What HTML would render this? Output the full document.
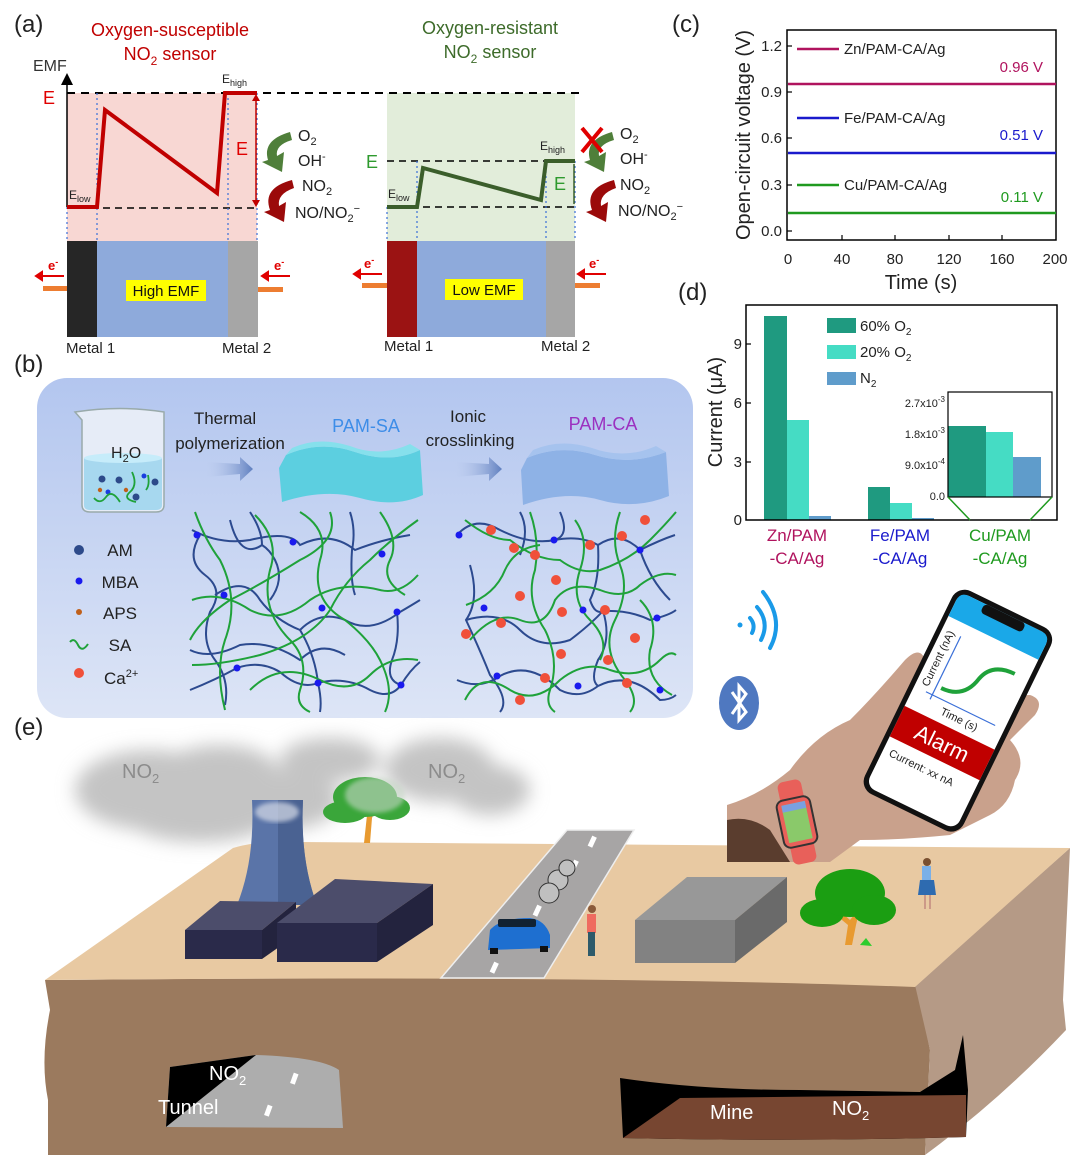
<!DOCTYPE html>
<html><head><meta charset="utf-8"><style>
html,body{margin:0;padding:0;background:#fff}
svg{display:block}
text{font-family:"Liberation Sans",Arial,sans-serif}
</style></head><body>
<svg width="1080" height="1163" viewBox="0 0 1080 1163" xmlns="http://www.w3.org/2000/svg">
<defs>
<filter id="blur" x="-30%" y="-30%" width="160%" height="160%"><feGaussianBlur stdDeviation="9"/></filter>
<filter id="blur2"><feGaussianBlur stdDeviation="2"/></filter>
<linearGradient id="bgb" x1="0" y1="0" x2="0" y2="1"><stop offset="0" stop-color="#b3c6ef"/><stop offset="1" stop-color="#dde5f6"/></linearGradient>
<linearGradient id="arr" x1="0" y1="0" x2="1" y2="0"><stop offset="0" stop-color="#b9c8ea" stop-opacity="0"/><stop offset="1" stop-color="#5f7fbf"/></linearGradient>
<marker id="ah" markerWidth="8" markerHeight="8" refX="4" refY="4" orient="auto"><path d="M0,0 L8,4 L0,8 Z" fill="#000"/></marker>
</defs>

<!-- ===== Panel (a) ===== -->
<text x="14" y="32" font-size="24" fill="#222">(a)</text>
<text x="170" y="36" font-size="18" fill="#c00000" text-anchor="middle">Oxygen-susceptible</text>
<text x="170" y="60" font-size="18" fill="#c00000" text-anchor="middle">NO<tspan font-size="12" dy="5">2</tspan><tspan dy="-5"> sensor</tspan></text>
<text x="490" y="34" font-size="18" fill="#3d6b2a" text-anchor="middle">Oxygen-resistant</text>
<text x="490" y="58" font-size="18" fill="#3d6b2a" text-anchor="middle">NO<tspan font-size="12" dy="5">2</tspan><tspan dy="-5"> sensor</tspan></text>
<text x="33" y="71" font-size="16" fill="#333">EMF</text>

<rect x="67" y="93" width="190" height="148" fill="#f8d7d3"/>
<rect x="387" y="93" width="188" height="148" fill="#e2edda"/>
<line x1="67" y1="207" x2="67" y2="79" stroke="#000" stroke-width="1.5" marker-end="url(#ah)"/>
<line x1="67" y1="93" x2="584" y2="93" stroke="#000" stroke-width="2" stroke-dasharray="8,6"/>
<line x1="67" y1="208" x2="257" y2="208" stroke="#000" stroke-width="1.5" stroke-dasharray="7,5"/>
<line x1="387" y1="207" x2="575" y2="207" stroke="#000" stroke-width="1.5" stroke-dasharray="7,5"/>
<line x1="387" y1="161" x2="575" y2="161" stroke="#000" stroke-width="1.5" stroke-dasharray="7,5"/>
<g stroke="#3a6fd8" stroke-width="1.2" stroke-dasharray="2,3">
<line x1="67" y1="207" x2="67" y2="241"/><line x1="97" y1="93" x2="97" y2="241"/><line x1="228" y1="93" x2="228" y2="241"/><line x1="257" y1="93" x2="257" y2="241"/>
<line x1="387" y1="207" x2="387" y2="241"/><line x1="417" y1="161" x2="417" y2="241"/><line x1="546" y1="161" x2="546" y2="241"/><line x1="575" y1="161" x2="575" y2="241"/>
</g>
<polyline points="67,207 97,207 105,110 217,193 225,93 257,93" fill="none" stroke="#c00000" stroke-width="4" stroke-linejoin="miter"/>
<polyline points="387,207 417,207 423,168 541,200 546,161 575,161" fill="none" stroke="#3b5e2b" stroke-width="4"/>
<text x="43" y="104" font-size="18" fill="#e00000">E</text>
<text x="69" y="199" font-size="12" fill="#222">E<tspan font-size="9" dy="3">low</tspan></text>
<text x="222" y="83" font-size="12" fill="#222">E<tspan font-size="9" dy="3">high</tspan></text>
<line x1="256" y1="97" x2="256" y2="204" stroke="#c00000" stroke-width="1.5"/>
<path d="M252,101 L256,94 L260,101Z M252,200 L256,207 L260,200Z" fill="#c00000"/>
<text x="236" y="155" font-size="18" fill="#e00000">E</text>
<text x="366" y="168" font-size="18" fill="#2e9a2e">E</text>
<text x="388" y="198" font-size="12" fill="#222">E<tspan font-size="9" dy="3">low</tspan></text>
<text x="540" y="150" font-size="12" fill="#222">E<tspan font-size="9" dy="3">high</tspan></text>
<line x1="574" y1="164" x2="574" y2="204" stroke="#3b5e2b" stroke-width="1.5"/>
<text x="554" y="190" font-size="18" fill="#2e9a2e">E</text>

<!-- reaction arrows left -->
<path d="M290,132 Q262,140 268,160 L262,162 L282,172 L284,152 L277,156 Q275,145 292,140Z" fill="#4f7f3a"/>
<path d="M292,180 Q262,188 270,210 L264,212 L284,222 L286,202 L279,206 Q277,194 294,188Z" fill="#9b0a0a"/>
<text x="298" y="141" font-size="16" fill="#222">O<tspan font-size="11" dy="4">2</tspan></text>
<text x="298" y="166" font-size="16" fill="#222">OH<tspan font-size="11" dy="-6">-</tspan></text>
<text x="302" y="191" font-size="16" fill="#222">NO<tspan font-size="11" dy="4">2</tspan></text>
<text x="295" y="218" font-size="16" fill="#222">NO/NO<tspan font-size="11" dy="4">2</tspan><tspan font-size="11" dy="-10">−</tspan></text>
<!-- right -->
<path d="M612,132 Q584,140 590,160 L584,162 L604,172 L606,152 L599,156 Q597,145 614,140Z" fill="#4f7f3a"/>
<path d="M582,128 L602,152 M602,128 L582,152" stroke="#e00000" stroke-width="4"/>
<path d="M614,180 Q584,188 592,210 L586,212 L606,222 L608,202 L601,206 Q599,194 616,188Z" fill="#9b0a0a"/>
<text x="620" y="139" font-size="16" fill="#222">O<tspan font-size="11" dy="4">2</tspan></text>
<text x="620" y="164" font-size="16" fill="#222">OH<tspan font-size="11" dy="-6">-</tspan></text>
<text x="620" y="190" font-size="16" fill="#222">NO<tspan font-size="11" dy="4">2</tspan></text>
<text x="618" y="216" font-size="16" fill="#222">NO/NO<tspan font-size="11" dy="4">2</tspan><tspan font-size="11" dy="-10">−</tspan></text>

<!-- bars -->
<rect x="67" y="241" width="30" height="96" fill="#262626"/>
<rect x="97" y="241" width="131" height="96" fill="#8eaadb"/>
<rect x="228" y="241" width="30" height="96" fill="#a6a6a6"/>
<rect x="126" y="280" width="80" height="21" fill="#ffff00"/>
<text x="166" y="296" font-size="15" fill="#111" text-anchor="middle">High EMF</text>
<rect x="387" y="241" width="30" height="96" fill="#9b1313"/>
<rect x="417" y="241" width="129" height="96" fill="#8eaadb"/>
<rect x="546" y="241" width="29" height="96" fill="#a6a6a6"/>
<rect x="445" y="279" width="78" height="21" fill="#ffff00"/>
<text x="484" y="295" font-size="15" fill="#111" text-anchor="middle">Low EMF</text>
<rect x="43" y="286" width="24" height="5" fill="#ed7d31"/>
<rect x="258" y="287" width="25" height="5" fill="#ed7d31"/>
<rect x="362" y="283" width="25" height="5" fill="#ed7d31"/>
<rect x="575" y="283" width="25" height="5" fill="#ed7d31"/>
<g fill="#e00000" font-size="13" font-weight="bold">
<text x="48" y="270">e<tspan font-size="9" dy="-5">-</tspan></text>
<text x="274" y="270">e<tspan font-size="9" dy="-5">-</tspan></text>
<text x="364" y="268">e<tspan font-size="9" dy="-5">-</tspan></text>
<text x="589" y="268">e<tspan font-size="9" dy="-5">-</tspan></text>
</g>
<g stroke="#e00000" stroke-width="2" fill="#e00000">
<line x1="64" y1="276" x2="42" y2="276"/><path d="M42,272 L36,276 L42,280Z"/>
<line x1="290" y1="276" x2="268" y2="276"/><path d="M268,272 L262,276 L268,280Z"/>
<line x1="382" y1="274" x2="360" y2="274"/><path d="M360,270 L354,274 L360,278Z"/>
<line x1="606" y1="274" x2="584" y2="274"/><path d="M584,270 L578,274 L584,278Z"/>
</g>
<text x="66" y="353" font-size="15" fill="#222">Metal 1</text>
<text x="222" y="353" font-size="15" fill="#222">Metal 2</text>
<text x="384" y="351" font-size="15" fill="#222">Metal 1</text>
<text x="541" y="351" font-size="15" fill="#222">Metal 2</text>

<!-- ===== Panel (c) ===== -->
<text x="672" y="32" font-size="24" fill="#222">(c)</text>
<rect x="787" y="30" width="269" height="210" fill="none" stroke="#000" stroke-width="1.5"/>
<g font-size="15" fill="#222" text-anchor="end">
<text x="782" y="51">1.2</text><text x="782" y="97">0.9</text><text x="782" y="143">0.6</text><text x="782" y="190">0.3</text><text x="782" y="236">0.0</text>
</g>
<g stroke="#000" stroke-width="1.2">
<line x1="787" y1="46" x2="792" y2="46"/><line x1="787" y1="92" x2="792" y2="92"/><line x1="787" y1="138" x2="792" y2="138"/><line x1="787" y1="185" x2="792" y2="185"/><line x1="787" y1="231" x2="792" y2="231"/>
<line x1="842" y1="240" x2="842" y2="235"/><line x1="895" y1="240" x2="895" y2="235"/><line x1="949" y1="240" x2="949" y2="235"/><line x1="1002" y1="240" x2="1002" y2="235"/>
</g>
<g font-size="15" fill="#222" text-anchor="middle">
<text x="788" y="264">0</text><text x="842" y="264">40</text><text x="895" y="264">80</text><text x="949" y="264">120</text><text x="1002" y="264">160</text><text x="1055" y="264">200</text>
</g>
<text x="921" y="289" font-size="20" fill="#222" text-anchor="middle">Time (s)</text>
<text transform="translate(750,135) rotate(-90)" font-size="20" fill="#222" text-anchor="middle">Open-circuit voltage (V)</text>
<line x1="788" y1="84" x2="1056" y2="84" stroke="#b0135e" stroke-width="2.5"/>
<line x1="788" y1="153" x2="1056" y2="153" stroke="#1a1acc" stroke-width="2.5"/>
<line x1="788" y1="213" x2="1056" y2="213" stroke="#1f9a1f" stroke-width="2.5"/>
<line x1="797" y1="49" x2="839" y2="49" stroke="#b0135e" stroke-width="2.5"/>
<line x1="797" y1="118" x2="839" y2="118" stroke="#1a1acc" stroke-width="2.5"/>
<line x1="797" y1="185" x2="839" y2="185" stroke="#1f9a1f" stroke-width="2.5"/>
<g font-size="15" fill="#222">
<text x="844" y="54">Zn/PAM-CA/Ag</text><text x="844" y="123">Fe/PAM-CA/Ag</text><text x="844" y="190">Cu/PAM-CA/Ag</text>
</g>
<text x="1043" y="72" font-size="15" fill="#b0135e" text-anchor="end">0.96 V</text>
<text x="1043" y="140" font-size="15" fill="#1a1acc" text-anchor="end">0.51 V</text>
<text x="1043" y="202" font-size="15" fill="#1f9a1f" text-anchor="end">0.11 V</text>

<!-- ===== Panel (d) ===== -->
<text x="678" y="300" font-size="24" fill="#222">(d)</text>
<rect x="764" y="316" width="23" height="204" fill="#1f9a80"/>
<rect x="787" y="420" width="22" height="100" fill="#45dcc4"/>
<rect x="809" y="516" width="22" height="4" fill="#5f9ccb"/>
<rect x="868" y="487" width="22" height="33" fill="#1f9a80"/>
<rect x="890" y="503" width="22" height="17" fill="#45dcc4"/>
<rect x="912" y="518" width="22" height="2" fill="#5f9ccb"/>
<rect x="746" y="305" width="311" height="215" fill="none" stroke="#000" stroke-width="1.5"/>
<g font-size="15" fill="#222" text-anchor="end">
<text x="742" y="349">9</text><text x="742" y="408">6</text><text x="742" y="467">3</text><text x="742" y="525">0</text>
</g>
<g stroke="#000" stroke-width="1.2"><line x1="746" y1="344" x2="751" y2="344"/><line x1="746" y1="403" x2="751" y2="403"/><line x1="746" y1="462" x2="751" y2="462"/></g>
<text transform="translate(722,412) rotate(-90)" font-size="20" fill="#222" text-anchor="middle">Current (μA)</text>
<rect x="827" y="318" width="29" height="15" fill="#1f9a80"/>
<rect x="827" y="345" width="29" height="14" fill="#45dcc4"/>
<rect x="827" y="372" width="29" height="13" fill="#5f9ccb"/>
<g font-size="15" fill="#222">
<text x="860" y="331">60% O<tspan font-size="10" dy="4">2</tspan></text>
<text x="860" y="357">20% O<tspan font-size="10" dy="4">2</tspan></text>
<text x="860" y="383">N<tspan font-size="10" dy="4">2</tspan></text>
</g>
<rect x="948" y="426" width="38" height="71" fill="#1f9a80"/>
<rect x="986" y="432" width="27" height="65" fill="#45dcc4"/>
<rect x="1013" y="457" width="28" height="40" fill="#5f9ccb"/>
<rect x="948" y="392" width="104" height="105" fill="none" stroke="#000" stroke-width="1.2"/>
<g font-size="11" fill="#222" text-anchor="end">
<text x="945" y="407">2.7x10<tspan font-size="8" dy="-5">-3</tspan></text>
<text x="945" y="438">1.8x10<tspan font-size="8" dy="-5">-3</tspan></text>
<text x="945" y="469">9.0x10<tspan font-size="8" dy="-5">-4</tspan></text>
<text x="945" y="500">0.0</text>
</g>
<path d="M948,497 L970,520 M1052,497 L1030,520" stroke="#1f9a1f" stroke-width="1.5"/>
<g font-size="17" text-anchor="middle">
<text x="797" y="541" fill="#b0135e">Zn/PAM</text><text x="797" y="564" fill="#b0135e">-CA/Ag</text>
<text x="900" y="541" fill="#1a1acc">Fe/PAM</text><text x="900" y="564" fill="#1a1acc">-CA/Ag</text>
<text x="1000" y="541" fill="#1f9a1f">Cu/PAM</text><text x="1000" y="564" fill="#1f9a1f">-CA/Ag</text>
</g>

<!-- ===== Panel (b) ===== -->
<text x="14" y="372" font-size="24" fill="#222">(b)</text>
<rect x="37" y="378" width="656" height="340" rx="30" fill="url(#bgb)"/>
<!-- beaker -->
<path d="M75,412 L82,420 L82,505 Q82,512 90,512 L156,512 Q164,512 164,505 L164,412 Q120,405 75,412Z" fill="#e6ecf7" stroke="#9aa" stroke-width="1.5"/>
<path d="M84,458 Q123,450 162,458 L162,505 Q162,510 156,510 L90,510 Q84,510 84,505Z" fill="#a7d8ef"/>
<ellipse cx="123" cy="458" rx="39" ry="5" fill="#c6ecfa"/>
<text x="111" y="458" font-size="16" fill="#222">H<tspan font-size="11" dy="4">2</tspan><tspan dy="-4">O</tspan></text>
<g fill="#2d4a8a"><circle cx="102" cy="479" r="3.5"/><circle cx="119" cy="480" r="3.5"/><circle cx="155" cy="482" r="3.5"/><circle cx="136" cy="497" r="3.5"/></g>
<g fill="#1a3ee0"><circle cx="144" cy="476" r="2.5"/><circle cx="108" cy="492" r="2.5"/></g>
<g fill="#c0601a"><circle cx="100" cy="490" r="2.2"/><circle cx="126" cy="490" r="2.2"/></g>
<path d="M94,498 Q100,505 106,497 T120,502 M132,472 Q138,485 130,492 T136,502 M148,475 Q150,485 146,490" stroke="#1fa23a" stroke-width="1.8" fill="none"/>
<text x="225" y="424" font-size="17" fill="#222" text-anchor="middle">Thermal</text>
<text x="230" y="449" font-size="17" fill="#222" text-anchor="middle">polymerization</text>
<path d="M206,462 L240,464 L240,457 L253,469 L240,481 L240,474 L206,477Z" fill="url(#arr)"/>
<text x="366" y="432" font-size="18" fill="#3d8de8" text-anchor="middle">PAM-SA</text>
<path d="M286,455 Q320,440 355,452 Q390,464 420,450 L423,495 Q395,508 360,498 Q325,488 282,502 L279,468Z" fill="#5ccfe0"/>
<path d="M286,455 Q320,440 355,452 Q390,464 420,450 L410,444 Q380,458 350,446 Q318,436 292,448Z" fill="#86e0ec"/>
<text x="468" y="422" font-size="17" fill="#222" text-anchor="middle">Ionic</text>
<text x="470" y="446" font-size="17" fill="#222" text-anchor="middle">crosslinking</text>
<path d="M455,462 L489,464 L489,457 L502,469 L489,481 L489,474 L455,477Z" fill="url(#arr)"/>
<text x="603" y="430" font-size="18" fill="#9b30c0" text-anchor="middle">PAM-CA</text>
<path d="M527,458 Q560,444 595,455 Q630,466 666,452 L669,496 Q635,510 600,500 Q565,490 523,505 L521,470Z" fill="#8eb2e6"/>
<path d="M527,458 Q560,444 595,455 Q630,466 666,452 L656,446 Q625,460 592,448 Q560,438 533,450Z" fill="#a6c3ee"/>
<!-- legend -->
<circle cx="79" cy="550" r="5" fill="#2d4a8a"/><text x="120" y="556" font-size="17" fill="#222" text-anchor="middle">AM</text>
<circle cx="79" cy="581" r="3.5" fill="#1a1aee"/><text x="120" y="588" font-size="17" fill="#222" text-anchor="middle">MBA</text>
<circle cx="79" cy="612" r="3" fill="#c0601a"/><text x="120" y="619" font-size="17" fill="#222" text-anchor="middle">APS</text>
<path d="M70,642 Q74,637 78,645 T88,644" stroke="#1fa23a" stroke-width="2" fill="none"/><text x="120" y="651" font-size="17" fill="#222" text-anchor="middle">SA</text>
<circle cx="79" cy="673" r="5" fill="#f0503a"/><text x="104" y="684" font-size="17" fill="#222">Ca<tspan font-size="11" dy="-7">2+</tspan></text>
<!-- network 1 -->
<g fill="none" stroke-width="2">
<g stroke="#2c4a8f">
<path d="M192,530 Q220,545 250,540 Q290,530 300,545 Q330,530 355,550 Q380,540 410,535"/>
<path d="M250,512 Q262,530 262,545"/>
<path d="M350,512 Q356,530 352,550 Q350,580 355,595"/>
<path d="M200,535 Q185,560 205,575 Q225,590 210,612 Q200,640 215,660 Q230,680 225,705"/>
<path d="M215,595 Q245,575 260,600 Q275,620 300,630 Q320,610 345,620 Q370,635 400,612 Q412,605 420,600"/>
<path d="M190,650 Q210,660 240,645 Q270,640 300,660 Q320,640 345,655"/>
<path d="M190,690 Q215,680 237,668 Q260,660 280,672 Q300,690 318,683 Q345,676 370,690 Q390,700 401,685 Q410,670 420,662"/>
<path d="M300,630 Q315,655 318,683 Q322,700 320,712"/>
<path d="M230,520 Q240,560 262,545"/>
<path d="M397,612 Q400,640 392,660 Q385,680 401,685"/>
<path d="M270,600 Q285,580 275,560 Q270,550 262,545"/>
</g>
<g stroke="#1fa23a">
<path d="M195,512 Q205,540 220,560 Q240,600 225,640 Q215,670 225,710"/>
<path d="M255,515 Q280,540 270,570 Q260,610 290,640 Q310,660 300,690 Q295,705 310,712"/>
<path d="M300,512 Q330,530 320,560 Q310,600 345,620 Q370,640 380,660 Q395,690 385,712"/>
<path d="M330,512 Q340,540 300,560 Q260,585 230,600 Q200,620 190,640"/>
<path d="M418,520 Q390,540 370,560 Q345,580 330,610 Q310,640 260,655 Q220,665 192,665"/>
<path d="M192,600 Q220,590 250,610 Q280,625 310,600 Q340,580 380,590 Q400,595 418,575"/>
<path d="M380,512 Q400,540 390,560 Q380,580 405,595"/>
<path d="M250,690 Q280,660 320,680 Q350,695 370,675 Q390,655 418,660"/>
</g>
</g>
<g fill="#1a1aee"><circle cx="197" cy="535" r="3.5"/><circle cx="293" cy="542" r="3.5"/><circle cx="382" cy="554" r="3.5"/><circle cx="224" cy="595" r="3.5"/><circle cx="322" cy="608" r="3.5"/><circle cx="397" cy="612" r="3.5"/><circle cx="237" cy="668" r="3.5"/><circle cx="318" cy="683" r="3.5"/><circle cx="401" cy="685" r="3.5"/></g>
<!-- network 2 -->
<g fill="none" stroke-width="2">
<g stroke="#2c4a8f">
<path d="M457,535 Q475,515 500,530 Q530,545 555,540 Q580,535 598,545 Q620,530 640,550 Q660,540 675,535"/>
<path d="M470,565 Q480,600 466,620 Q480,650 490,675 Q510,700 500,712"/>
<path d="M466,620 Q500,610 520,630 Q540,650 570,640 Q590,625 603,611 Q630,610 650,620 Q670,615 676,610"/>
<path d="M457,680 Q480,690 500,676 Q530,660 560,690 Q580,700 598,686 Q630,670 660,700 Q670,700 676,695"/>
<path d="M598,545 Q600,580 590,600 Q595,615 603,611 Q612,640 598,660 Q590,680 598,686"/>
<path d="M640,550 Q650,580 670,600"/>
<path d="M520,512 Q530,530 520,555"/>
<path d="M560,512 Q570,535 555,540"/>
</g>
<g stroke="#1fa23a">
<path d="M465,520 Q490,540 510,540 Q535,560 560,560 Q580,575 600,570 Q630,560 650,540 Q665,525 676,512"/>
<path d="M470,640 Q495,610 520,620 Q545,630 555,600 Q570,580 600,590 Q625,600 640,585 Q660,570 676,575"/>
<path d="M465,700 Q480,670 510,690 Q535,705 560,680 Q585,660 610,670 Q640,680 660,660 Q670,650 676,655"/>
<path d="M530,512 Q540,540 535,570 Q525,600 545,630 Q560,660 550,690 Q545,705 555,712"/>
<path d="M620,512 Q610,540 620,565 Q630,590 615,620 Q600,650 625,680 Q640,700 630,712"/>
<path d="M575,520 Q590,540 580,570 Q570,600 590,620 Q610,640 600,660"/>
<path d="M466,605 Q495,595 505,570 Q515,548 540,545"/>
<path d="M640,600 Q660,620 650,650 Q645,680 672,695"/>
</g>
</g>
<g fill="#1a1aee"><circle cx="459" cy="535" r="3.5"/><circle cx="554" cy="540" r="3.5"/><circle cx="640" cy="550" r="3.5"/><circle cx="484" cy="608" r="3.5"/><circle cx="583" cy="610" r="3.5"/><circle cx="657" cy="618" r="3.5"/><circle cx="497" cy="676" r="3.5"/><circle cx="578" cy="686" r="3.5"/><circle cx="660" cy="690" r="3.5"/></g>
<g fill="#f0503a">
<circle cx="491" cy="530" r="5"/><circle cx="514" cy="548" r="5"/><circle cx="535" cy="555" r="5"/><circle cx="590" cy="545" r="5"/><circle cx="622" cy="536" r="5"/><circle cx="645" cy="520" r="5"/>
<circle cx="556" cy="580" r="5"/><circle cx="520" cy="596" r="5"/><circle cx="562" cy="612" r="5"/><circle cx="605" cy="610" r="5"/><circle cx="501" cy="623" r="5"/><circle cx="466" cy="634" r="5"/><circle cx="635" cy="638" r="5"/>
<circle cx="561" cy="654" r="5"/><circle cx="608" cy="660" r="5"/><circle cx="545" cy="678" r="5"/><circle cx="627" cy="683" r="5"/><circle cx="520" cy="700" r="5"/>
</g>

<!-- ===== Panel (e) ===== -->
<text x="14" y="735" font-size="24" fill="#222">(e)</text>
<!-- clouds -->
<g filter="url(#blur)" fill="#c4c4c4">
<ellipse cx="150" cy="790" rx="75" ry="40"/><ellipse cx="220" cy="775" rx="60" ry="30"/><ellipse cx="280" cy="800" rx="60" ry="30"/><ellipse cx="200" cy="820" rx="70" ry="22"/>
<ellipse cx="330" cy="760" rx="50" ry="22"/><ellipse cx="440" cy="770" rx="55" ry="32"/><ellipse cx="490" cy="790" rx="40" ry="25"/>
</g>
<text x="122" y="778" font-size="20" fill="#8c8c8c">NO<tspan font-size="13" dy="5">2</tspan></text>
<text x="428" y="778" font-size="20" fill="#8c8c8c">NO<tspan font-size="13" dy="5">2</tspan></text>
<!-- ground -->
<path d="M45,980 L50,1010 Q40,1060 48,1100 L48,1155 L925,1155 L930,1050 L917,985 Q600,975 45,980Z" fill="#9b7a5e"/>
<path d="M915,985 L1070,848 L1063,1000 L1066,1030 Q1000,1100 925,1155 L930,1050 Z" fill="#b59a86"/>
<path d="M45,980 L233,848 Q260,840 300,842 L1070,848 L915,987 Q600,975 45,980Z" fill="#e8c9a2"/>
<!-- road -->
<path d="M567,830 L634,830 L544,978 L441,978Z" fill="#a7a5a5" stroke="#eee" stroke-width="1.5"/>
<g fill="#fff"><rect x="590" y="836" width="5" height="11" transform="rotate(25 592 841)"/><rect x="572" y="860" width="5" height="11" transform="rotate(25 574 865)"/><rect x="535" y="905" width="5" height="11" transform="rotate(25 537 910)"/><rect x="492" y="962" width="5" height="11" transform="rotate(25 494 967)"/></g>
<!-- tower -->
<path d="M252,800 L303,800 Q300,860 317,905 L237,905 Q255,860 252,800Z" fill="#5a74a8"/>
<path d="M278,800 L303,800 Q300,860 317,905 L278,905Z" fill="#4a6292"/>
<ellipse cx="277" cy="812" rx="22" ry="10" fill="#d8dde8" opacity="0.7" filter="url(#blur2)"/>
<!-- buildings -->
<path d="M185,930 L220,901 L296,902 L262,930Z" fill="#4c4d6b"/>
<path d="M262,930 L296,902 L296,935 L262,959Z" fill="#23233e"/>
<rect x="185" y="930" width="77" height="29" fill="#2a2a4a"/>
<path d="M277,923 L335,879 L433,884 L377,923Z" fill="#4c4d6b"/>
<path d="M377,923 L433,884 L433,925 L377,962Z" fill="#23233e"/>
<rect x="277" y="923" width="100" height="39" fill="#2a2a4a"/>
<!-- gray box -->
<path d="M635,920 L687,877 L787,877 L735,920Z" fill="#989898"/>
<path d="M735,920 L787,877 L787,922 L735,963Z" fill="#6a6a6a"/>
<rect x="635" y="920" width="100" height="43" fill="#828282"/>
<!-- tree 1 -->
<path d="M364,843 L367,815 L360,805 L366,806 L370,812 L378,803 L372,818 L370,843Z" fill="#e89a30"/>
<g fill="#3aa63a"><ellipse cx="345" cy="812" rx="22" ry="11"/><ellipse cx="365" cy="797" rx="32" ry="20"/><ellipse cx="390" cy="808" rx="20" ry="12"/></g>
<g fill="#c6d6c6" opacity="0.6" filter="url(#blur2)"><ellipse cx="375" cy="795" rx="30" ry="18"/></g>
<!-- tree 2 -->
<path d="M845,945 L848,925 L836,915 L842,913 L850,920 L860,908 L856,925 L852,945Z" fill="#e89a30"/>
<g fill="#1b9e12"><ellipse cx="822" cy="913" rx="22" ry="14"/><ellipse cx="850" cy="893" rx="35" ry="24"/><ellipse cx="874" cy="910" rx="22" ry="15"/></g>
<path d="M860,945 L866,938 L872,946Z" fill="#2ecc2e"/>
<!-- car & smoke -->
<g fill="#c0c0c0" stroke="#333" stroke-width="1"><circle cx="558" cy="880" r="10"/><circle cx="549" cy="893" r="10"/><circle cx="567" cy="868" r="8"/></g>
<path d="M490,930 Q500,918 530,918 Q545,920 550,935 L550,948 L488,950 Z" fill="#1e6fd0"/>
<rect x="498" y="919" width="38" height="8" fill="#123" rx="2"/>
<rect x="490" y="948" width="8" height="6" fill="#111"/><rect x="540" y="946" width="8" height="6" fill="#111"/>
<!-- people -->
<circle cx="592" cy="909" r="4" fill="#8a5a3a"/><rect x="587" y="914" width="9" height="19" fill="#ef6b5f"/><rect x="588" y="932" width="7" height="24" fill="#2d5a6a"/>
<circle cx="927" cy="862" r="4" fill="#7a5030"/><rect x="922" y="866" width="9" height="14" fill="#7ab0e8"/><path d="M920,880 L934,880 L936,895 L918,895Z" fill="#2e6bb0"/><rect x="924" y="895" width="2" height="14" fill="#c98"/><rect x="929" y="895" width="2" height="14" fill="#c98"/>
<!-- tunnel -->
<path d="M170,1067 L256,1055 Q320,1057 339,1070 L343,1128 L166,1127Z" fill="#adadad"/>
<path d="M170,1067 L256,1055 L166,1127Z" fill="#000"/>
<g fill="#fff"><rect x="292" y="1073" width="5" height="11" transform="rotate(20 294 1078)"/><rect x="266" y="1105" width="5" height="11" transform="rotate(20 268 1110)"/></g>
<text x="209" y="1080" font-size="20" fill="#fff">NO<tspan font-size="13" dy="5">2</tspan></text>
<text x="158" y="1114" font-size="20" fill="#fff">Tunnel</text>
<!-- mine -->
<path d="M620,1078 Q700,1090 800,1090 L920,1092 L955,1070 L963,1035 L968,1090 L966,1137 Q800,1142 623,1138Z" fill="#000"/>
<path d="M680,1098 L966,1095 L966,1137 Q800,1142 623,1138Z" fill="#774631"/>
<text x="710" y="1119" font-size="20" fill="#fff">Mine</text>
<text x="832" y="1115" font-size="20" fill="#fff">NO<tspan font-size="13" dy="5">2</tspan></text>

<!-- hand / phone -->
<path d="M727,862 L727,805 Q760,795 790,770 Q815,735 850,720 Q875,695 905,660 Q920,645 925,660 L920,700 L1030,695 Q1045,700 1035,715 L1010,740 Q1028,760 1015,780 Q1010,805 990,815 L950,835 Q900,840 860,840 L830,862Z" fill="#c9a18c"/>
<path d="M727,862 L727,820 Q750,815 770,830 L790,862Z" fill="#5a3d2e"/>
<g transform="translate(958,585) rotate(26)">
<rect x="0" y="0" width="110" height="226" rx="14" fill="#111"/>
<rect x="5" y="5" width="100" height="216" rx="10" fill="#fff"/>
<path d="M5,15 Q5,5 15,5 L95,5 Q105,5 105,15 L105,32 L5,32Z" fill="#1aa8e8"/>
<rect x="32" y="5" width="46" height="10" rx="4" fill="#111"/>
<line x1="25" y1="115" x2="25" y2="45" stroke="#3a6fd8" stroke-width="1.2"/>
<line x1="18" y1="110" x2="95" y2="110" stroke="#3a6fd8" stroke-width="1.2"/>
<path d="M30,100 Q55,100 60,75 Q65,55 90,55" stroke="#1fa23a" stroke-width="4" fill="none"/>
<text transform="translate(18,105) rotate(-90)" font-size="11" fill="#222">Current (nA)</text>
<text x="40" y="124" font-size="11" fill="#222">Time (s)</text>
<rect x="5" y="132" width="100" height="34" fill="#c00000"/>
<text x="55" y="157" font-size="22" fill="#fff" text-anchor="middle">Alarm</text>
<text x="12" y="184" font-size="11" fill="#222">Current: xx nA</text>
</g>
<!-- watch -->
<g transform="translate(797,822) rotate(-12)">
<rect x="-12" y="-42" width="24" height="84" rx="6" fill="#e8605a"/>
<rect x="-17" y="-24" width="34" height="48" rx="7" fill="#e8605a" stroke="#333" stroke-width="2"/>
<rect x="-12" y="-19" width="24" height="38" fill="#8ac96a"/>
<rect x="-12" y="-19" width="24" height="7" fill="#7aa0e0"/>
</g>
<!-- wifi & bluetooth -->
<g fill="none" stroke="#1a9ae8" stroke-width="4" stroke-linecap="round">
<path d="M750,618 Q756,625 752,633"/><path d="M757,607 Q770,622 761,640"/><path d="M763,592 Q785,620 770,648"/>
</g>
<circle cx="740" cy="625" r="2.5" fill="#1a9ae8"/>
<ellipse cx="739" cy="703" rx="20" ry="27" fill="#4f78c0"/>
<path d="M732,692 L746,712 L739,720 L739,686 L746,694 L732,714" stroke="#fff" stroke-width="3" fill="none"/>
</svg>
</body></html>
